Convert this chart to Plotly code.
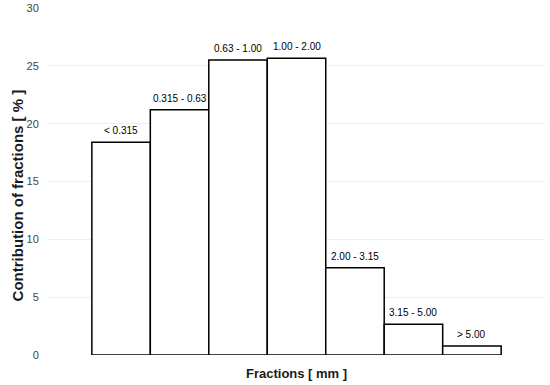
import plotly.graph_objects as go

fractions = ["< 0.315", "0.315 - 0.63", "0.63 - 1.00", "1.00 - 2.00", "2.00 - 3.15", "3.15 - 5.00", "> 5.00"]
contribution = [18.4, 21.2, 25.5, 25.65, 7.55, 2.65, 0.78]
y_ticks = [0, 5, 10, 15, 20, 25, 30]

positions = list(range(len(fractions)))
FONT = "Liberation Sans, Arial, sans-serif"

fig = go.Figure()
fig.add_trace(go.Bar(
    x=positions, y=contribution, width=1.0,
    marker=dict(color="white", line=dict(color="black", width=1.5)),
    hoverinfo="skip",
))

for p, v, lab in zip(positions, contribution, fractions):
    fig.add_annotation(x=p, y=v, text=lab, showarrow=False, yanchor="bottom",
                       yshift=4, font=dict(family=FONT, size=10, color="black"))

# axis titles
fig.add_annotation(xref="paper", yref="paper", x=0.5, y=0, yshift=-18,
                   text="<b>Fractions [ mm ]</b>", showarrow=False, yanchor="middle",
                   font=dict(family=FONT, size=13, color="#1a1a1a"))
fig.add_annotation(xref="paper", yref="paper", x=0, xshift=-31, y=0.46,
                   text="<b>Contribution of fractions [ % ]</b>", showarrow=False, textangle=-90,
                   xanchor="center", yanchor="middle",
                   font=dict(family=FONT, size=15, color="#1a1a1a"))

fig.update_layout(
    template="none",
    width=550, height=385,
    margin=dict(l=48, r=5, t=8, b=30, pad=0),
    paper_bgcolor="white", plot_bgcolor="white",
    showlegend=False,
    font=dict(family=FONT, color="#444444"),
    xaxis=dict(range=[-1.25, 7.25], showticklabels=False, showgrid=False, zeroline=False,
               showline=False, ticks="", automargin=False),
    yaxis=dict(range=[0, 30], tickvals=y_ticks, showgrid=True, gridcolor="#efefef", gridwidth=1,
               zeroline=False, showline=False, tickfont=dict(family=FONT, size=11, color="#444444"),
               ticks="outside", ticklen=6, tickcolor="white", automargin=False),
)

fig.write_html("out.html", config={"displayModeBar": False, "staticPlot": True},
               post_script="document.body.style.margin='0';document.body.style.padding='0';document.body.style.overflow='hidden';")
